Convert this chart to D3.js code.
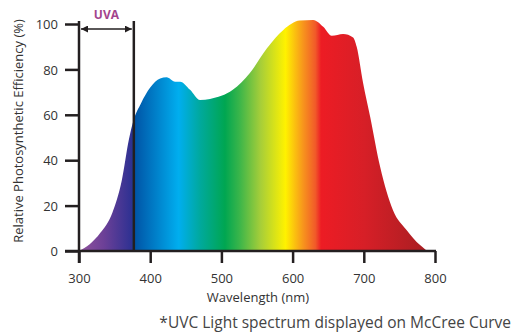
<!DOCTYPE html>
<html>
<head>
<meta charset="utf-8">
<title>McCree Curve</title>
<script src="https://d3js.org/d3.v7.min.js"></script>
<style>
  body { margin: 0; background: #fff; }
  text { font-family: "Open Sans", sans-serif; }
</style>
</head>
<body>
<div id="chart"></div>
<script>
// wavelength (nm) and relative efficiency (%)
var wavelengths = [300, 315, 330, 347, 360, 370, 377, 387, 400, 414, 423, 435, 442, 456, 470, 484, 516, 540, 564, 587, 610, 629, 643, 655, 671, 685, 690, 699, 709, 723, 741, 760, 779, 789];
var efficiency  = [0, 3, 8, 17, 31, 49, 58, 65, 72, 76, 76.5, 74.6, 74.6, 71, 66.5, 67, 71, 78.4, 89.3, 97.4, 101.5, 101.8, 98.8, 94.8, 95.6, 94.1, 90, 74, 59, 37, 18, 9.3, 2.6, 0];

var xTicks = [300, 400, 500, 600, 700, 800];
var yTicks = [0, 20, 40, 60, 80, 100];
var uvaEnd = 377;

// spectrum colours along the wavelength axis
var stopWl     = [300, 335, 374, 378, 440, 470, 505, 525, 555, 590, 615, 632, 640, 700, 790];
var stopColors = ["#91539d", "#6c4097", "#2e3192", "#0054a6", "#00aeef", "#00a99d", "#00a651", "#39b54a", "#a6ce39", "#fff200", "#f7941d", "#f15a29", "#ed1c24", "#d71f27", "#a81e22"];

var W = 512, H = 335;
var svg = d3.select("#chart").append("svg")
    .attr("width", W)
    .attr("height", H);

var x = d3.scaleLinear().domain([300, 800]).range([79, 435]);
var y = d3.scaleLinear().domain([0, 100]).range([251, 24]);

var data = wavelengths.map(function(w, i) { return {w: w, v: efficiency[i]}; });

var defs = svg.append("defs");
var grad = defs.append("linearGradient")
    .attr("id", "spectrum")
    .attr("gradientUnits", "userSpaceOnUse")
    .attr("x1", x(300)).attr("x2", x(800))
    .attr("y1", 0).attr("y2", 0);
grad.selectAll("stop")
  .data(stopWl)
  .enter().append("stop")
    .attr("offset", function(d) { return (d - 300) / 500; })
    .attr("stop-color", function(d, i) { return stopColors[i]; });

var area = d3.area()
    .x(function(d) { return x(d.w); })
    .y0(y(0))
    .y1(function(d) { return y(d.v); })
    .curve(d3.curveMonotoneX);

svg.append("path")
    .datum(data)
    .attr("d", area)
    .attr("fill", "url(#spectrum)");

// axes
var axisColor = "#231f20";

var yAxis = svg.append("g")
    .attr("transform", "translate(" + x(300) + ",0)")
    .call(d3.axisLeft(y).tickValues(yTicks).tickSize(14).tickSizeOuter(0).tickPadding(7));
yAxis.select(".domain").remove();
yAxis.selectAll("line").attr("stroke", axisColor).attr("stroke-width", 2.5);
yAxis.selectAll("text").attr("font-size", 13).attr("fill", "#333").attr("dy", "0.36em")
    .style("font-family", "'Open Sans', sans-serif");

var xAxis = svg.append("g")
    .attr("transform", "translate(0," + y(0) + ")")
    .call(d3.axisBottom(x).tickValues(xTicks).tickSize(12).tickSizeOuter(0).tickPadding(11));
xAxis.select(".domain").remove();
xAxis.selectAll("line").attr("stroke", axisColor).attr("stroke-width", 2.5);
xAxis.selectAll("text").attr("font-size", 13).attr("fill", "#333")
    .style("font-family", "'Open Sans', sans-serif");

// axis lines
svg.append("line")
    .attr("x1", x(300)).attr("x2", x(300))
    .attr("y1", y(100) - 3).attr("y2", y(0) + 12)
    .attr("stroke", axisColor).attr("stroke-width", 2.5);
svg.append("line")
    .attr("x1", x(300) - 14).attr("x2", x(800) + 1)
    .attr("y1", y(0)).attr("y2", y(0))
    .attr("stroke", axisColor).attr("stroke-width", 2.5);

// UVA band marker
svg.append("line")
    .attr("x1", x(uvaEnd)).attr("x2", x(uvaEnd))
    .attr("y1", y(100) - 3).attr("y2", y(0))
    .attr("stroke", axisColor).attr("stroke-width", 2.5);

defs.append("marker")
    .attr("id", "arrow")
    .attr("viewBox", "0 0 10 10")
    .attr("refX", 10).attr("refY", 5)
    .attr("markerWidth", 7).attr("markerHeight", 7)
    .attr("markerUnits", "userSpaceOnUse")
    .attr("orient", "auto-start-reverse")
  .append("path")
    .attr("d", "M0,0L10,5L0,10z")
    .attr("fill", axisColor);

svg.append("line")
    .attr("x1", x(300) + 2).attr("x2", x(uvaEnd) - 2)
    .attr("y1", 29).attr("y2", 29)
    .attr("stroke", axisColor).attr("stroke-width", 1.5)
    .attr("marker-start", "url(#arrow)")
    .attr("marker-end", "url(#arrow)");

svg.append("text")
    .attr("x", (x(300) + x(uvaEnd)) / 2)
    .attr("y", 19)
    .attr("text-anchor", "middle")
    .attr("font-size", 12)
    .attr("font-weight", "bold")
    .attr("fill", "#a3448e")
    .text("UVA");

// titles
svg.append("text")
    .attr("transform", "translate(23," + 131 + ")rotate(-90)")
    .attr("text-anchor", "middle")
    .attr("font-size", 13)
    .attr("fill", "#333")
    .text("Relative Photosynthetic Efficiency (%)");

svg.append("text")
    .attr("x", 258)
    .attr("y", 302)
    .attr("text-anchor", "middle")
    .attr("font-size", 13)
    .attr("fill", "#333")
    .text("Wavelength (nm)");

svg.append("text")
    .attr("x", 511)
    .attr("y", 328)
    .attr("text-anchor", "end")
    .attr("font-size", 15.5)
    .attr("fill", "#444")
    .text("*UVC Light spectrum displayed on McCree Curve");
</script>
</body>
</html>
